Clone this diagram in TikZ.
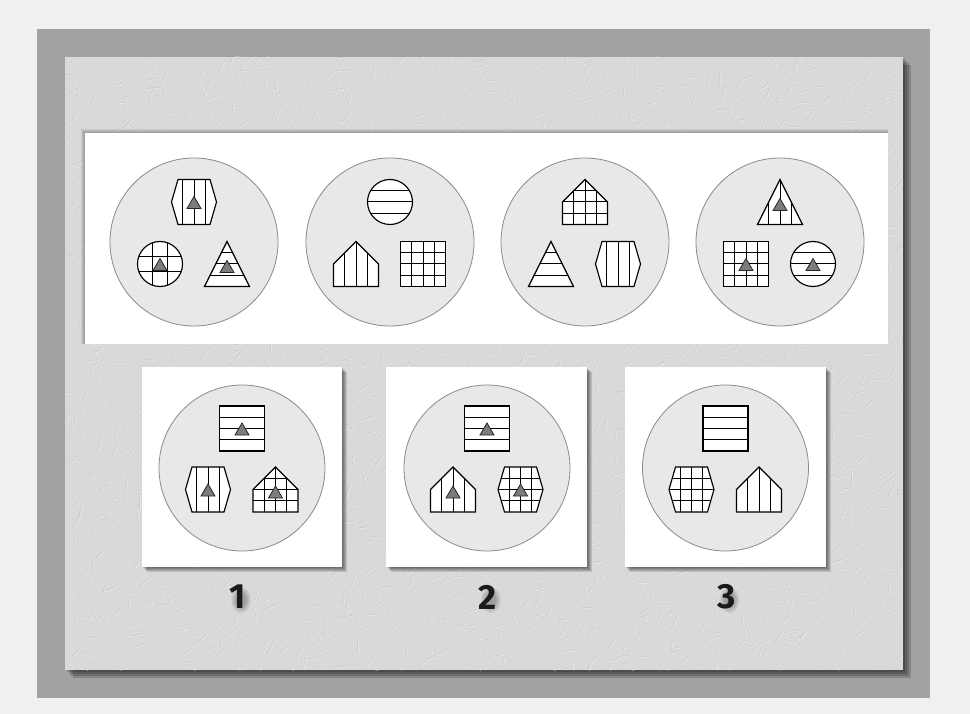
\documentclass[tikz,border=0pt]{standalone}
\usepackage{fontspec}
\setmainfont{Fira Sans}
\definecolor{pagebg}{HTML}{F0F0F0}
\definecolor{framegrey}{HTML}{A2A2A2}
\definecolor{panelgrey}{HTML}{D9D9D9}
\definecolor{discfill}{HTML}{E8E8E8}
\definecolor{discline}{HTML}{8A8A8A}
\definecolor{trifill}{HTML}{7C7C7C}
\definecolor{labcol}{HTML}{1A1A1A}
\tikzset{
  shp/.style={draw=black, line width=1.15pt, line join=miter},
  pat/.style={draw=black, line width=1pt},
  gtri/.style={fill=trifill, draw=black!85, line width=0.8pt, line join=miter},
  disc/.style={circle, fill=discfill, draw=discline, line width=0.8pt, inner sep=0pt},
  bigdisc/.style={disc, minimum size=168pt},
  smalldisc/.style={disc, minimum size=166pt},
  lab/.style={inner sep=0pt, text=labcol, font=\fontsize{35}{35}\selectfont\bfseries},
}
% shape outlines (box 45 x 45 centred on origin, y downwards)
\def\pathhex{(-22.5,0) -- (-16,-22.5) -- (16,-22.5) -- (22.5,0) -- (16,22.5) -- (-16,22.5) -- cycle}
\def\pathcirc{(0,0) circle[radius=22.5pt]}
\def\pathtri{(0,-22.5) -- (22.5,22.5) -- (-22.5,22.5) -- cycle}
\def\pathhouse{(0,-22.5) -- (22.5,0) -- (22.5,22.5) -- (-22.5,22.5) -- (-22.5,0) -- cycle}
\def\pathsq{(-22.5,-22.5) rectangle (22.5,22.5)}
% fillings
\def\patvs{\draw[pat] (-11.25,-25) -- (-11.25,25) (0,-25) -- (0,25) (11.25,-25) -- (11.25,25);}
\def\paths{\draw[pat] (-25,-11.25) -- (25,-11.25) (-25,0) -- (25,0) (-25,11.25) -- (25,11.25);}
\def\patgrid{\patvs\paths}
\def\patgridthird{\draw[pat] (-7.5,-25) -- (-7.5,25) (7.5,-25) -- (7.5,25) (-25,-7.5) -- (25,-7.5) (-25,7.5) -- (25,7.5);}
% #1 x, #2 y, #3 outline, #4 filling, #5 grey triangle: 0 none, 1 centred, 2 low
\newcommand\motif[5]{%
  \begin{scope}[shift={(#1,#2)}]
    \fill[white] #3;
    \begin{scope}
      \clip #3;
      #4
    \end{scope}
    \draw[shp] #3;
    \ifcase#5\relax
    \or \filldraw[gtri] (0,-5.5) -- (7,6.5) -- (-7,6.5) -- cycle;
    \or \filldraw[gtri] (0,-3.5) -- (7,8.5) -- (-7,8.5) -- cycle;
    \fi
  \end{scope}}
% soft shadow blob behind a label
\newcommand\labshadow[2]{%
  \foreach \r in {13,11,9,7}
    \fill[black, opacity=0.07] (#1,#2) ellipse[x radius=\r*0.75 pt, y radius=\r pt];}
\begin{document}
\begin{tikzpicture}[x=1pt,y=-1pt]
  \useasboundingbox (0,0) rectangle (970,714);
  \fill[pagebg] (0,0) rectangle (970,714);
  % grey frame
  \fill[framegrey] (37,29) rectangle (930,698);
  % panel shadow
  \foreach \k in {2,4,6,8}
    \fill[black, opacity=0.17] (65+\k,57+\k) rectangle (903+\k,670+\k);
  % textured panel
  \fill[panelgrey] (65,57) rectangle (903,670);
  \begin{scope}
    \clip (65,57) rectangle (903,670);
    \pgfmathsetseed{11}
    \foreach \i in {1,...,3200}{
      \pgfmathsetmacro\xa{65+rnd*838}
      \pgfmathsetmacro\ya{57+rnd*613}
      \pgfmathsetmacro\an{rnd*360}
      \pgfmathsetmacro\le{4+rnd*12}
      \draw[black!50, opacity=0.22, line width=0.4pt] (\xa,\ya) -- ++(\an:\le);
      \draw[white, opacity=0.55, line width=0.4pt] (\xa+0.7,\ya+0.7) -- ++(\an:\le);
    }
  \end{scope}
  % white strip with soft shadow to top-left
  \foreach \k in {1,2,3,4}
    \fill[black, opacity=0.07] (85-\k,133-\k) rectangle (888,344);
  \fill[white] (85,133) rectangle (888,344);
  % answer boxes with shadows
  \foreach \bx/\bw in {142/200,386/201,625/201}{
    \foreach \k in {1,2,3,4,5}
      \fill[black, opacity=0.12] (\bx+\k,367+\k) rectangle (\bx+\bw+\k,567+\k);
    \fill[white] (\bx,367) rectangle (\bx+\bw,567);
  }
  % ---------- top row ----------
  \begin{scope}[shift={(194,242)}]
    \node[bigdisc] (c1) at (0,0) {};
    \motif{0}{-40}{\pathhex}{\patvs}{1}
    \motif{-34}{22}{\pathcirc}{\patgridthird}{1}
    \motif{33}{22}{\pathtri}{\paths}{2}
  \end{scope}
  \begin{scope}[shift={(390,242)}]
    \node[bigdisc] (c2) at (0,0) {};
    \motif{0}{-40}{\pathcirc}{\paths}{0}
    \motif{-34}{22}{\pathhouse}{\patvs}{0}
    \motif{33}{22}{\pathsq}{\patgrid}{0}
  \end{scope}
  \begin{scope}[shift={(585,242)}]
    \node[bigdisc] (c3) at (0,0) {};
    \motif{0}{-40}{\pathhouse}{\patgrid}{0}
    \motif{-34}{22}{\pathtri}{\paths}{0}
    \motif{33}{22}{\pathhex}{\patvs}{0}
  \end{scope}
  \begin{scope}[shift={(780,242)}]
    \node[bigdisc] (c4) at (0,0) {};
    \motif{0}{-40}{\pathtri}{\patvs}{2}
    \motif{-34}{22}{\pathsq}{\patgrid}{1}
    \motif{33}{22}{\pathcirc}{\paths}{1}
  \end{scope}
  % ---------- answers ----------
  \begin{scope}[shift={(242,468)}]
    \node[smalldisc] (a1) at (0,0) {};
    \motif{0}{-39.5}{\pathsq}{\paths}{1}
    \motif{-34}{21.5}{\pathhex}{\patvs}{1}
    \motif{33.5}{21.5}{\pathhouse}{\patgrid}{2}
  \end{scope}
  \begin{scope}[shift={(487,468)}]
    \node[smalldisc] (a2) at (0,0) {};
    \motif{0}{-39.5}{\pathsq}{\paths}{1}
    \motif{-34}{21.5}{\pathhouse}{\patvs}{2}
    \motif{33.5}{21.5}{\pathhex}{\patgrid}{1}
  \end{scope}
  \begin{scope}[shift={(725.5,468)}]
    \node[smalldisc] (a3) at (0,0) {};
    \motif{0}{-39.5}{\pathsq}{\paths}{0}
    \motif{-34}{21.5}{\pathhex}{\patgrid}{0}
    \motif{33.5}{21.5}{\pathhouse}{\patvs}{0}
  \end{scope}
  % ---------- labels ----------
  \labshadow{241}{600}
  \labshadow{491}{600}
  \labshadow{729.5}{600}
  \node[lab] (n1) at (238,597) {1};
  \node[lab] (n2) at (488,597) {2};
  \node[lab] (n3) at (726.5,597) {3};
\end{tikzpicture}
\end{document}
